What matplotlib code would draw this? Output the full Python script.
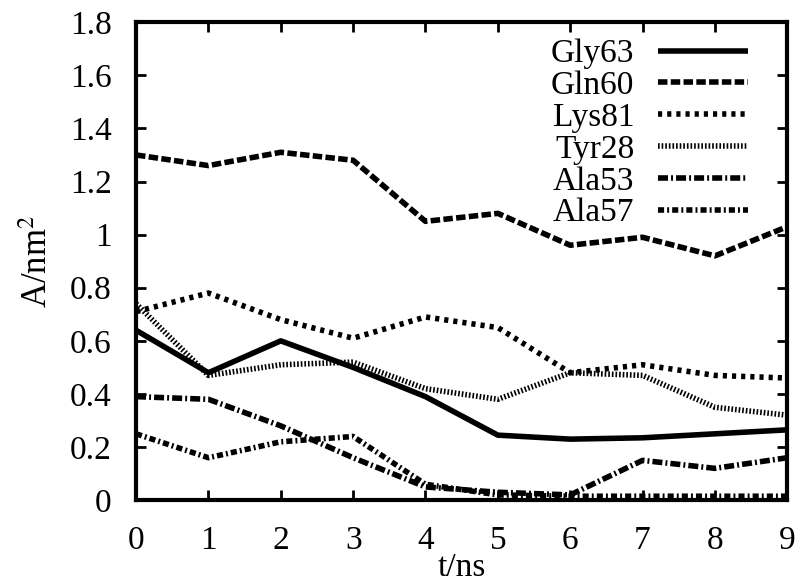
import matplotlib
matplotlib.use("Agg")
import matplotlib.pyplot as plt

t_ns = [0, 1, 2, 3, 4, 5, 6, 7, 8, 9]
gly63 = [0.64, 0.48, 0.60, 0.50, 0.39, 0.245, 0.23, 0.235, 0.25, 0.265]
gln60 = [1.30, 1.26, 1.31, 1.28, 1.05, 1.08, 0.96, 0.99, 0.92, 1.03]
lys81 = [0.71, 0.78, 0.68, 0.61, 0.69, 0.65, 0.48, 0.51, 0.47, 0.46]
tyr28 = [0.74, 0.47, 0.51, 0.52, 0.42, 0.38, 0.48, 0.47, 0.35, 0.32]
ala53 = [0.39, 0.38, 0.28, 0.16, 0.05, 0.03, 0.02, 0.15, 0.12, 0.16]
ala57 = [0.25, 0.16, 0.22, 0.24, 0.06, 0.02, 0.015, 0.015, 0.015, 0.015]

series = [
    ("Gly63", gly63, None),
    ("Gln60", gln60, (1.7, 0.6)),
    ("Lys81", lys81, (0.75, 0.9)),
    ("Tyr28", tyr28, (0.3, 0.35)),
    ("Ala53", ala53, (1.8, 0.55, 0.35, 0.55)),
    ("Ala57", ala57, (1.1, 0.55, 0.35, 0.55)),
]

plt.rcParams["font.family"] = ["Liberation Serif", "DejaVu Serif"]
plt.rcParams["mathtext.fontset"] = "stix"

fig = plt.figure(figsize=(8.05, 5.83), dpi=100)
ax = fig.add_axes([0.169, 0.142, 0.809, 0.820])

for name, vals, dash in series:
    line, = ax.plot(t_ns, vals, color="black", lw=4.0, label=name,
                    solid_capstyle="butt", dash_capstyle="butt")
    if dash is not None:
        line.set_dashes(dash)

ax.set_xlim(0, 9)
ax.set_ylim(0, 1.8)
ax.set_xticks(range(0, 10))
ax.set_yticks([0, 0.2, 0.4, 0.6, 0.8, 1.0, 1.2, 1.4, 1.6, 1.8])
ax.set_yticklabels(["0", "0.2", "0.4", "0.6", "0.8", "1", "1.2", "1.4", "1.6", "1.8"])
ax.tick_params(direction="in", length=7, width=2, top=True, right=True,
               labelsize=24)
ax.tick_params(axis="x", pad=18.5)
ax.tick_params(axis="y", pad=17.5)
for s in ax.spines.values():
    s.set_linewidth(3)

ax.set_xlabel("t/ns", fontsize=24, labelpad=-3)
ax.set_ylabel(r"A/nm$^2$", fontsize=25, labelpad=10.5)

ax.legend(loc="upper right", bbox_to_anchor=(0.965, 1.0), frameon=False,
          markerfirst=False, fontsize=24, handlelength=2.7,
          handletextpad=0.7, labelspacing=0.04, borderaxespad=0.1)

fig.savefig("out.png", dpi=100)
